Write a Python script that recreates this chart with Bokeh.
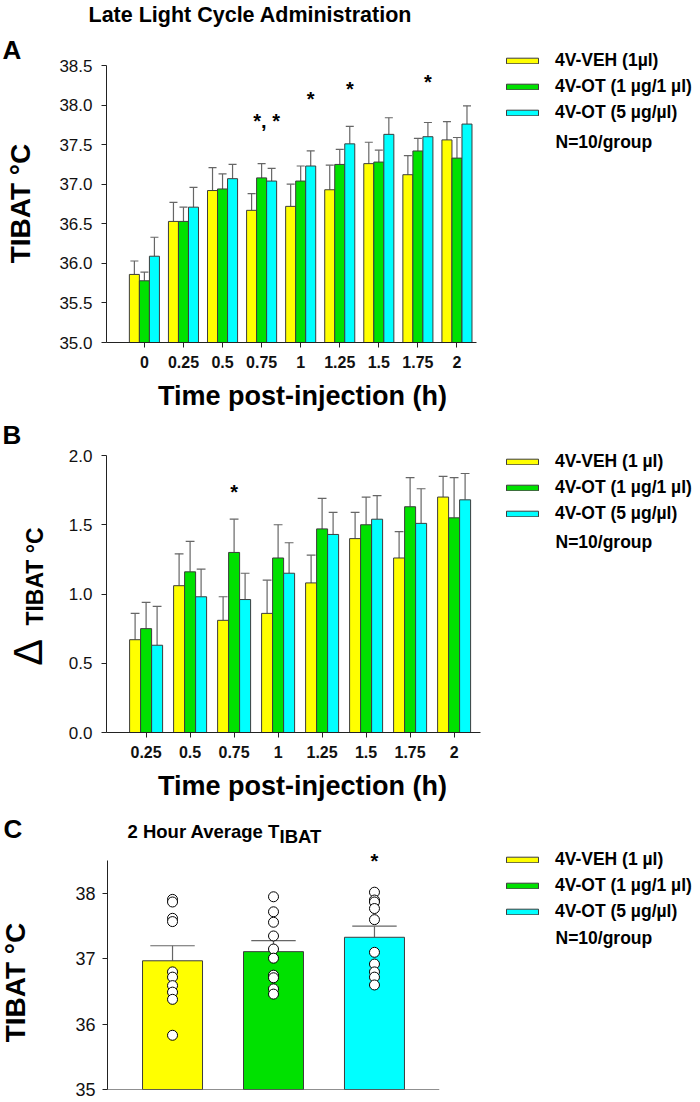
import math
import numpy as np
from bokeh.plotting import figure
from bokeh.models import (Range1d, FixedTicker, Label, Legend, LegendItem, Span,
                          PrintfTickFormatter)
from bokeh.layouts import column, row
from bokeh.embed import file_html
from bokeh.resources import INLINE

FONT = "Liberation Sans"
COLORS = ["#FFFF00", "#00E100", "#00FFFF"]
BAR_LINE = "#3c3c3c"
ERR_LINE = "#666666"
AXIS = "#222222"

# ---------------- texts ----------------
main_title = "Late Light Cycle Administration"
x_title = "Time post-injection (h)"
y_title = "TIBAT °C"
legend_A = ["4V-VEH (1µl)", "4V-OT (1 µg/1 µl)", "4V-OT (5 µg/µl)"]
legend_BC = ["4V-VEH (1 µl)", "4V-OT (1 µg/1 µl)", "4V-OT (5 µg/µl)"]
n_note = "N=10/group"
c_title_main = "2 Hour Average T"
c_title_sub = "IBAT"

# ---------------- panel A data ----------------
time_A = ["0", "0.25", "0.5", "0.75", "1", "1.25", "1.5", "1.75", "2"]
a_veh = [35.86, 36.53, 36.92, 36.67, 36.72, 36.93, 37.26, 37.12, 37.56]
a_veh_sem = [0.17, 0.24, 0.29, 0.21, 0.28, 0.31, 0.27, 0.24, 0.23]
a_ot1 = [35.78, 36.53, 36.94, 37.08, 37.04, 37.25, 37.28, 37.42, 37.33]
a_ot1_sem = [0.11, 0.18, 0.19, 0.18, 0.19, 0.19, 0.15, 0.16, 0.26]
a_ot5 = [36.09, 36.71, 37.07, 37.04, 37.23, 37.51, 37.63, 37.60, 37.76]
a_ot5_sem = [0.24, 0.25, 0.18, 0.16, 0.19, 0.22, 0.21, 0.18, 0.23]
a_yticks = [35.0, 35.5, 36.0, 36.5, 37.0, 37.5, 38.0, 38.5]
# significance marks: (group, bar slot, text, level)
a_stars = [(3, 0.5, "*, *", 37.80), (4, 1, "*", 38.08), (5, 1, "*", 38.20), (7, 1, "*", 38.29)]

# ---------------- panel B data ----------------
time_B = ["0.25", "0.5", "0.75", "1", "1.25", "1.5", "1.75", "2"]
b_veh = [0.67, 1.06, 0.81, 0.86, 1.08, 1.40, 1.26, 1.70]
b_veh_sem = [0.19, 0.23, 0.17, 0.24, 0.20, 0.19, 0.19, 0.15]
b_ot1 = [0.75, 1.16, 1.30, 1.26, 1.47, 1.50, 1.63, 1.55]
b_ot1_sem = [0.19, 0.22, 0.24, 0.24, 0.22, 0.20, 0.21, 0.29]
b_ot5 = [0.63, 0.98, 0.96, 1.15, 1.43, 1.54, 1.51, 1.68]
b_ot5_sem = [0.28, 0.20, 0.19, 0.22, 0.16, 0.17, 0.25, 0.19]
b_yticks = [0.0, 0.5, 1.0, 1.5, 2.0]
b_stars = [(2, 0, "*", 1.74)]

# ---------------- panel C data ----------------
c_means = [36.97, 37.11, 37.33]
c_sem = [0.23, 0.17, 0.17]
c_veh_pts = [37.91, 37.87, 37.62, 37.57, 36.80, 36.72, 36.59, 36.49, 36.38, 35.83]
c_ot1_pts = [37.95, 37.72, 37.56, 37.35, 37.15, 37.01, 36.75, 36.71, 36.54, 36.46]
c_ot5_pts = [38.02, 37.90, 37.87, 37.77, 37.60, 37.10, 36.92, 36.80, 36.72, 36.60]
c_yticks = [35, 36, 37, 38]
c_stars = [(2, "*", 38.50)]


def base_fig(w, h, xr, yr, left=0, right=0, top=0, bottom=0, axes=True):
    kw = {} if axes else dict(x_axis_type=None, y_axis_type=None)
    p = figure(width=w, height=h, x_range=xr, y_range=yr, output_backend="svg",
               toolbar_location=None, title=None, min_border=0, min_border_left=left,
               min_border_right=right, min_border_top=top, min_border_bottom=bottom,
               frame_align=False, **kw)
    p.grid.visible = False
    p.outline_line_color = None
    p.background_fill_color = "white"
    p.border_fill_color = "white"
    for ax in p.axis:
        ax.axis_line_color = AXIS
        ax.axis_line_width = 1
        ax.major_tick_line_color = AXIS
        ax.major_tick_out = 5
        ax.major_tick_in = 0
        ax.minor_tick_line_color = None
        ax.major_label_text_color = "#111111"
        ax.major_label_text_font = FONT
    return p


def screen_label(p, t, x, y, size, bold=True, align="left", angle=0.0):
    p.add_layout(Label(x=x, y=y, x_units="screen", y_units="screen", text=t,
                       text_font=FONT, text_font_size=f"{size}px",
                       text_font_style="bold" if bold else "normal",
                       text_align=align,
                       text_baseline="middle" if angle else "alphabetic",
                       angle=angle, text_color="black"))


def text_fig(w, h, texts):
    """texts: (text, x, y_from_top, size, bold, align, angle) -- y is the text's visual centre"""
    p = base_fig(w, h, Range1d(0, 1), Range1d(0, 1), axes=False)
    for t, x, y, size, bold, align, angle in texts:
        screen_label(p, t, x, h - y, size, bold, align, angle)
    return p


def legend_fig(w, h, labels, vx, vy, note_y):
    # legend proxies sit outside the (0, 1) ranges, so only their legend swatches show
    p = text_fig(w, h, [(n_note, 71, note_y, 17.5, True, "left", 0.0)])
    items = []
    for k, lab in enumerate(labels):
        r = p.vbar(x=[-5], top=[-5], bottom=-6, width=0.1, fill_color=COLORS[k],
                   line_color=BAR_LINE, line_width=1)
        items.append(LegendItem(label=lab, renderers=[r]))
    leg = Legend(items=items, location=(vx, vy), glyph_width=40, glyph_height=7,
                 label_height=20, spacing=5, padding=0, margin=0, label_standoff=13,
                 border_line_color=None, background_fill_alpha=0,
                 label_text_font=FONT, label_text_font_size="17.5px",
                 label_text_font_style="bold", label_text_color="black")
    p.add_layout(leg)
    return p


def grouped_bars(p, means, sems, bar_w, base):
    for k, (m, s) in enumerate(zip(means, sems)):
        m = np.asarray(m, dtype=float)
        s = np.asarray(s, dtype=float)
        xs = np.arange(len(m)) + (k - 1) * bar_w
        cap = 0.4 * bar_w
        p.segment(x0=xs, y0=m, x1=xs, y1=m + s, line_color=ERR_LINE, line_width=1.2)
        p.segment(x0=xs - cap, y0=m + s, x1=xs + cap, y1=m + s, line_color=ERR_LINE, line_width=1.2)
        p.vbar(x=xs, top=m, bottom=base, width=bar_w, fill_color=COLORS[k],
               line_color=BAR_LINE, line_width=1)


def add_stars(p, stars, bar_w, size=20):
    for g, slot, txt, lvl in stars:
        p.add_layout(Label(x=g + slot * bar_w, y=lvl, text=txt, text_font=FONT,
                           text_font_size=f"{size}px", text_font_style="bold",
                           text_align="center", text_baseline="middle",
                           text_color="black"))


def style_x(p, labels):
    p.xaxis.ticker = FixedTicker(ticks=list(range(len(labels))))
    p.xaxis.major_label_overrides = {i: t for i, t in enumerate(labels)}
    p.xaxis.major_label_text_font_style = "bold"
    p.xaxis.major_label_text_font_size = "16px"
    p.xaxis.major_label_standoff = 8


HALF_PI = math.pi / 2
LW = 55  # width of left text column
TOTAL_H = 1101

# ================= left text column (panel letters, y titles) =================
left_col = text_fig(LW, TOTAL_H, [
    ("A", 2, 49, 26, True, "left", 0.0),
    (y_title, 20, 203, 28, True, "center", HALF_PI),
    ("B", 2, 434, 26, True, "left", 0.0),
    ("Δ", 27, 652, 40, False, "center", HALF_PI),
    (y_title, 34, 576, 23, True, "center", HALF_PI),
    ("C", 3, 828, 26, True, "left", 0.0),
    (y_title, 15, 982, 28, True, "center", HALF_PI),
])

CW = 484 - LW  # width of chart column

# ================= Panel A =================
bwA = 10 / 39
stripA = text_fig(CW, 58, [(main_title, 88 - LW, 14, 21.5, True, "left", 0.0)])
pA = base_fig(CW, 320, Range1d(-0.97, 8.5), Range1d(35, 38.5),
              left=106 - LW, right=CW - (106 - LW) - 370, top=7, bottom=36)
grouped_bars(pA, [a_veh, a_ot1, a_ot5], [a_veh_sem, a_ot1_sem, a_ot5_sem], bwA, 35)
style_x(pA, time_A)
pA.yaxis.ticker = FixedTicker(ticks=a_yticks)
pA.yaxis.formatter = PrintfTickFormatter(format="%.1f")
pA.yaxis.major_label_text_font_size = "17px"
pA.yaxis.major_label_standoff = 9
add_stars(pA, a_stars, bwA)
xtA = text_fig(CW, 42, [(x_title, 302 - LW, 395 - 378, 27, True, "center", 0.0)])
legA = legend_fig(216, 420, legend_A, 18, 297, 141)
panelA = row(column(stripA, pA, xtA, spacing=0), legA, spacing=0)

# ================= Panel B =================
bwB = 11 / 44
pB = base_fig(CW, 348, Range1d(-0.9, 7.6), Range1d(0, 2),
              left=106 - LW, right=CW - (106 - LW) - 374, top=35, bottom=36)
grouped_bars(pB, [b_veh, b_ot1, b_ot5], [b_veh_sem, b_ot1_sem, b_ot5_sem], bwB, 0)
style_x(pB, time_B)
pB.yaxis.ticker = FixedTicker(ticks=b_yticks)
pB.yaxis.formatter = PrintfTickFormatter(format="%.1f")
pB.yaxis.major_label_text_font_size = "17px"
pB.yaxis.major_label_standoff = 9
add_stars(pB, b_stars, bwB)
xtB = text_fig(CW, 36, [(x_title, 302 - LW, 785 - 768, 27, True, "center", 0.0)])
legB = legend_fig(216, 384, legend_BC, 18, 280, 541 - 420)
panelB = row(column(pB, xtB, spacing=0), legB, spacing=0)

# ================= Panel C =================
bwC = 0.594
C_TOP = 804
C_H = TOTAL_H - C_TOP          # 297
C_BOTTOM = 1089                # screen row of the 35 baseline
C_BORDER_B = TOTAL_H - C_BOTTOM
c_px_per_unit = (C_BOTTOM - 893) / 3.0
c_ymax = 35 + (C_BOTTOM - C_TOP) / c_px_per_unit
pC = base_fig(CW, C_H, Range1d(-0.644, 2.644), Range1d(35, c_ymax),
              left=107 - LW, right=CW - (107 - LW) - 332, top=0, bottom=C_BORDER_B)
pC.xaxis.visible = False
pC.yaxis.bounds = (35, 38.5)
pC.add_layout(Span(location=35, dimension="width", line_color=AXIS, line_width=1))
cm = np.asarray(c_means)
cs = np.asarray(c_sem)
cx = np.arange(3)
pC.segment(x0=cx, y0=cm, x1=cx, y1=cm + cs, line_color=ERR_LINE, line_width=1.2)
pC.segment(x0=cx - 0.22, y0=cm + cs, x1=cx + 0.22, y1=cm + cs, line_color=ERR_LINE, line_width=1.2)
for k in range(3):
    pC.vbar(x=[k], top=[c_means[k]], bottom=35, width=bwC, fill_color=COLORS[k],
            line_color=BAR_LINE, line_width=1)
for k, pts in enumerate([c_veh_pts, c_ot1_pts, c_ot5_pts]):
    pC.scatter(x=[k] * len(pts), y=pts, size=10, marker="circle", fill_color="white",
               line_color="black", line_width=1)
pC.yaxis.ticker = FixedTicker(ticks=c_yticks)
pC.yaxis.major_label_text_font_size = "18px"
pC.yaxis.major_label_standoff = 7
add_stars(pC, [(g, 0, t, l) for g, t, l in c_stars], bwC)
# panel title inside the (taller) frame, above the axis bounds
screen_label(pC, c_title_main, 127 - 107, C_BOTTOM - 831, 18.5)
screen_label(pC, c_title_sub, 279 - 107, C_BOTTOM - 836, 18.5)
legC = legend_fig(216, C_H, legend_BC, 18, 179, 937 - C_TOP)
panelC = row(pC, legC, spacing=0)

layout = row(left_col, column(panelA, panelB, panelC, spacing=0), spacing=0)
open("out.html", "w").write(file_html(layout, INLINE))
